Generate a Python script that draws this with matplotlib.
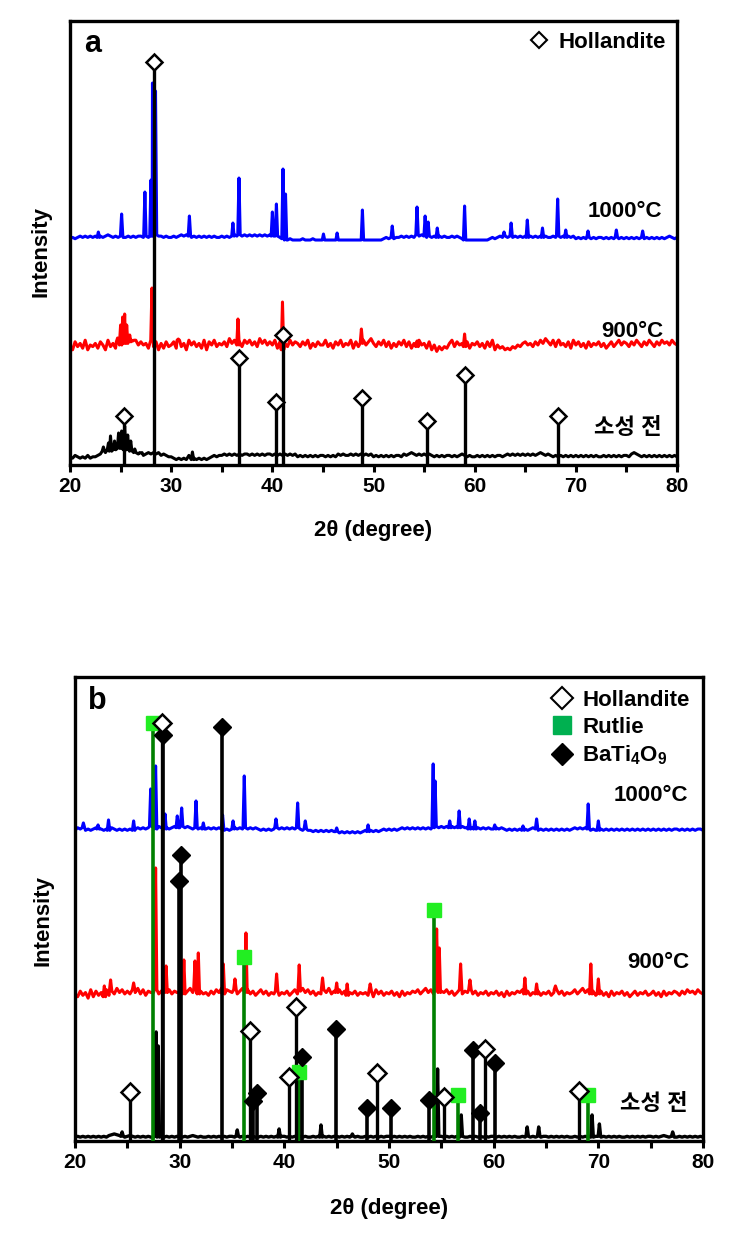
import matplotlib
matplotlib.use('Agg')
import matplotlib.pyplot as plt
from matplotlib.lines import Line2D
from matplotlib.ticker import MultipleLocator

plt.rcParams['font.family'] = ['Liberation Sans', 'Noto Sans CJK KR']
plt.rcParams['font.weight'] = 'bold'
plt.rcParams['mathtext.fontset'] = 'custom'
plt.rcParams['mathtext.rm'] = 'Liberation Sans:bold'
plt.rcParams['mathtext.it'] = 'Liberation Sans:bold'
plt.rcParams['mathtext.bf'] = 'Liberation Sans:bold'

# baseline noise, one digit per 0.25 deg from 20 to 80 (pixel-ish units)
# panel a
noise_a_1000 = ("1212323232 3232343232 3223232332 3233433232 2323434323 2323232322 "
                "3232343434 3434343434 3432100100 0010001000 0000000000 0000000000 "
                "0000121212 2323232434 3232323232 2323210000 0000001212 3232323232 "
                "3232323232 2323232323 1212121212 2121212121 2121212121 2121212321 2")
noise_a_900 = ("5274638254 6375284637 5869788575 6384726374 5738462857 4638275846 "
               "5749685748 6857496857 5837264857 6475836475 5846375846 5837468579 "
               "6475847364 7584736485 6372514243 6847564736 5746374825 3423243546 "
               "7564758697 5847564738 5746374657 4635746857 6475864758 6475867586 5")
noise_a_raw = ("3243232423 3457687989 9898776564 5656564543 3212121412 1212123434 "
               "4545454545 5454545455 4545454545 3434343434 4343435454 4545454545 "
               "3434343434 4354565454 5454343434 4343454343 3434343434 4345454545 "
               "4545456545 4343434343 4343434343 3434343434 4356543434 3434343434 3")
# (position, height above baseline)
peaks_a_1000 = [(22.8, 8), (25.1, 26), (27.4, 48), (28.0, 60), (28.15, 157), (28.45, 149),
                (31.8, 24), (36.1, 17), (36.7, 62), (40.0, 28), (40.4, 36), (41.05, 71),
                (41.3, 46), (45.05, 6), (46.4, 7), (48.9, 30), (51.85, 14), (54.3, 33),
                (55.1, 24), (55.4, 18), (56.3, 12), (59.0, 34), (62.9, 8), (63.6, 17),
                (65.2, 20), (66.7, 12), (68.2, 41), (69.0, 10), (71.2, 9), (74.0, 10), (76.6, 9)]
peaks_a_900 = [(24.7, 15), (25.0, 28), (25.2, 36), (25.4, 39), (25.6, 28), (25.9, 18),
               (26.2, 12), (28.1, 65), (30.7, 14), (36.6, 34), (41.0, 51), (48.8, 24),
               (54.3, 12), (59.0, 19), (68.3, 13)]
peaks_a_raw = [(23.3, 14), (23.8, 18), (24.0, 25), (24.4, 20), (24.8, 28), (25.1, 30),
               (25.4, 35), (25.7, 26), (26.0, 20), (26.4, 12), (27.0, 8), (32.1, 9)]
holl_a_pos = [25.3, 28.3, 36.7, 40.4, 41.1, 48.85, 55.25, 59.05, 68.2]
holl_a_h = [49, 403, 107, 63, 130, 67, 44, 90, 49]

# panel b
noise_b_1000 = ("2434232343 3232432323 2323434345 4354343454 4545434343 3434343232 "
                "3434343434 3232323434 3434343232 2121212121 1010101010 1212121232 "
                "3232343434 3434343454 5454545454 4343434343 3434323232 3232343232 "
                "3232323232 3434343232 2323232323 2323232323 2323232323 3232323233 2")
noise_b_900 = ("5374628374 6384759685 7586958476 6857968576 6857968575 6475869587 "
               "6857968574 6857465746 5746857968 5746586957 6857465746 5647385746 "
               "5746374657 6857968596 7685746857 6857465746 5746374657 6857465746 "
               "5746857465 6857968574 5746374657 4635746574 5746374657 6475867586 5")
noise_b_raw = ("1212121212 1213454321 2321212121 1212121212 2121232121 1212121212 "
               "2121212121 1212121212 2121212121 1212121212 2121212121 1212121212 "
               "2121212121 1212121232 2121212121 1212121212 2121212121 1212121212 "
               "2121212121 1212121212 2121212121 1212121212 2121232121 1212121212 1")
peaks_b_1000 = [(20.8, 10), (22.2, 8), (23.2, 13), (25.6, 12), (27.23, 44), (27.7, 67),
                (28.6, 19), (29.77, 17), (30.19, 25), (31.56, 32), (32.26, 10), (34.1, 18),
                (35.1, 12), (36.17, 57), (39.2, 14), (41.27, 30), (42.0, 12), (45.0, 5),
                (48.0, 8), (54.22, 69), (54.4, 52), (55.8, 12), (56.7, 22), (57.66, 14),
                (58.2, 12), (60.1, 8), (62.8, 7), (64.1, 14), (69.03, 29), (70.0, 12)]
peaks_b_900 = [(22.8, 15), (23.4, 21), (25.6, 18), (27.7, 133), (28.7, 35), (30.4, 41),
               (31.46, 40), (31.78, 48), (34.17, 37), (35.28, 22), (36.33, 68), (39.26, 27),
               (41.42, 36), (43.65, 23), (45.0, 18), (46.0, 17), (48.2, 17), (54.55, 72),
               (54.8, 53), (56.84, 37), (57.73, 21), (62.98, 23), (64.1, 17), (65.9, 15),
               (69.28, 37), (70.0, 22)]
peaks_b_raw = [(24.5, 6), (27.75, 106), (27.95, 92), (35.5, 8), (39.5, 9), (43.5, 13),
               (46.5, 4), (54.64, 69), (56.9, 23), (63.2, 11), (64.3, 11), (69.4, 23),
               (70.1, 14), (77.1, 6)]
holl_b_pos = [25.25, 28.28, 36.7, 40.44, 41.1, 48.87, 55.25, 59.16, 68.17]
holl_b_h = [49, 418, 110, 64, 134, 68, 44, 92, 50]
rut_b_pos = [27.42, 36.1, 41.4, 54.29, 56.6, 69.03]
rut_b_h = [418, 184, 69, 231, 46, 46]
bat_b_pos = [28.4, 29.93, 30.1, 34.0, 37.0, 37.35, 41.7, 44.93, 47.86, 50.18, 53.84,
             58.05, 58.68, 60.1]
bat_b_h = [406, 260, 286, 414, 40, 48, 84, 112, 33, 33, 41, 91, 28, 78]


def build(base, noise, scale, peaks, w=0.12):
    vals = [int(c) for c in noise.replace(' ', '')]
    n = len(vals)
    xs = [20 + 60 * i / (n - 1) for i in range(n)]
    pts = [(x, base + v * scale) for x, v in zip(xs, vals)
           if all(abs(x - p) > w for p, h in peaks)]
    for p, h in peaks:
        foot = base + scale * vals[round((p - 20) / 60 * (n - 1))]
        pts += [(p - w, foot), (p, base + h), (p + w, foot)]
    pts.sort()
    return [q[0] for q in pts], [q[1] for q in pts]


fig = plt.figure(figsize=(7.34, 12.38), dpi=100)
ax1 = fig.add_axes([0.0954, 0.6244, 0.8270, 0.3586])
ax2 = fig.add_axes([0.1022, 0.0784, 0.8556, 0.3748])

FS = 16
for ax, top in [(ax1, 444), (ax2, 464)]:
    ax.set_xlim(20, 80)
    ax.set_ylim(0, top)
    ax.set_yticks([])
    ax.xaxis.set_major_locator(MultipleLocator(10))
    ax.xaxis.set_minor_locator(MultipleLocator(5))
    ax.tick_params(axis='x', which='both', direction='out', length=5, width=2.2,
                   labelsize=15, pad=4)
    for s in ax.spines.values():
        s.set_linewidth(2.4)
    ax.set_xlabel('2θ (degree)', fontsize=FS, fontweight='bold')
    ax.set_ylabel('Intensity', fontsize=FS, fontweight='bold')

# ---- panel a
x, y = build(225, noise_a_1000, 1.3, peaks_a_1000)
ax1.plot(x, y, color='#0000ff', lw=2.2)
x, y = build(112, noise_a_900, 1.6, peaks_a_900)
ax1.plot(x, y, color='#ff0000', lw=2.2)
x, y = build(4, noise_a_raw, 1.4, peaks_a_raw)
ax1.plot(x, y, color='black', lw=2.2)
ax1.vlines(holl_a_pos, 0, holl_a_h, color='black', lw=2.4, zorder=3)
ax1.plot(holl_a_pos, holl_a_h, 'D', ms=8.5, mfc='white', mec='black', mew=1.8, zorder=4)

ax1.text(0.023, 0.948, 'a', transform=ax1.transAxes, fontsize=22, fontweight='bold',
         va='center', ha='left')
ax1.text(0.975, 0.572, '1000°C', transform=ax1.transAxes, fontsize=FS, ha='right', va='center')
ax1.text(0.977, 0.300, '900°C', transform=ax1.transAxes, fontsize=FS, ha='right', va='center')
ax1.text(0.975, 0.083, '소성 전', transform=ax1.transAxes, fontsize=FS, ha='right', va='center')
h_holl = Line2D([], [], marker='D', ls='none', ms=8.5, mfc='white', mec='black', mew=1.5)
ax1.legend([h_holl], ['Hollandite'], loc='upper right', frameon=False, fontsize=FS,
           handletextpad=0.3, borderaxespad=0.1, handlelength=1.2)

# ---- panel b
x, y = build(308, noise_b_1000, 1.3, peaks_b_1000)
ax2.plot(x, y, color='#0000ff', lw=2.2)
x, y = build(140, noise_b_900, 1.4, peaks_b_900)
ax2.plot(x, y, color='#ff0000', lw=2.2)
x, y = build(3, noise_b_raw, 0.8, peaks_b_raw)
ax2.plot(x, y, color='black', lw=2.4)
ax2.vlines(rut_b_pos, 0, rut_b_h, color='#008000', lw=2.6, zorder=3)
ax2.vlines(bat_b_pos, 0, bat_b_h, color='black', lw=2.6, zorder=3)
ax2.vlines(holl_b_pos, 0, holl_b_h, color='black', lw=2.4, zorder=3)
ax2.plot(rut_b_pos, rut_b_h, 's', ms=9.5, mfc='#22ee22', mec='#22ee22', zorder=4)
ax2.plot(bat_b_pos, bat_b_h, 'D', ms=9.5, mfc='black', mec='black', zorder=4)
ax2.plot(holl_b_pos, holl_b_h, 'D', ms=9, mfc='white', mec='black', mew=1.8, zorder=5)

ax2.text(0.021, 0.948, 'b', transform=ax2.transAxes, fontsize=22, fontweight='bold',
         va='center', ha='left')
ax2.text(0.976, 0.744, '1000°C', transform=ax2.transAxes, fontsize=FS, ha='right', va='center')
ax2.text(0.979, 0.384, '900°C', transform=ax2.transAxes, fontsize=FS, ha='right', va='center')
ax2.text(0.975, 0.078, '소성 전', transform=ax2.transAxes, fontsize=FS, ha='right', va='center')
h_rut = Line2D([], [], marker='s', ls='none', ms=13, mfc='#00b050', mec='#00b050')
h_bat = Line2D([], [], marker='D', ls='none', ms=11, mfc='black', mec='black')
h_holl2 = Line2D([], [], marker='D', ls='none', ms=11, mfc='white', mec='black', mew=1.5)
ax2.legend([h_holl2, h_rut, h_bat], ['Hollandite', 'Rutlie', 'BaTi$_4$O$_9$'],
           loc='upper right', frameon=False, fontsize=FS, handletextpad=0.3,
           borderaxespad=0.2, labelspacing=0.25, handlelength=1.2)

ax1.xaxis.set_label_coords(0.5, -0.124)
ax2.xaxis.set_label_coords(0.5, -0.123)
ax1.yaxis.set_label_coords(-0.031, 0.48)
ax2.yaxis.set_label_coords(-0.035, 0.476)

fig.savefig('out.png', dpi=100)
